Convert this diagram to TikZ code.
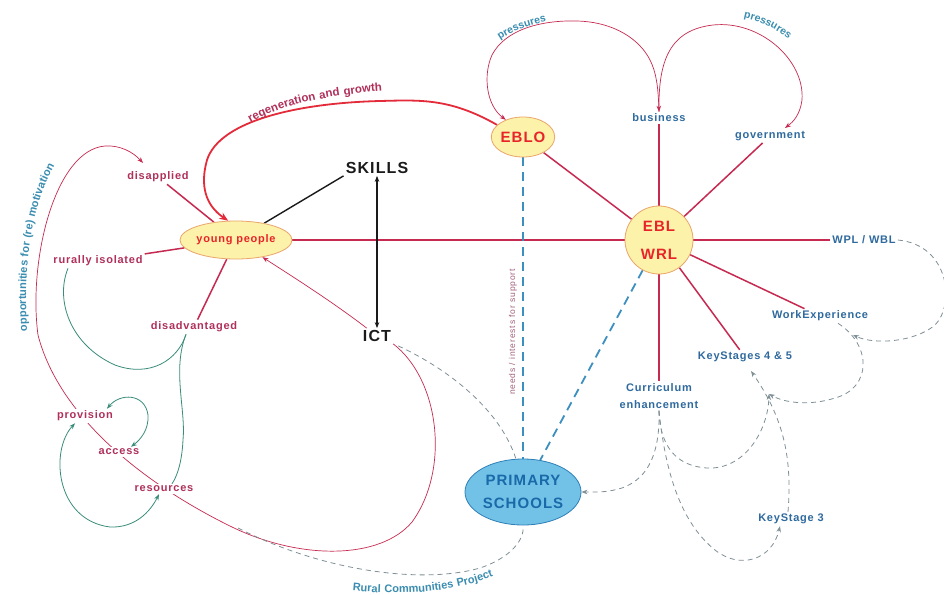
\documentclass[tikz,border=0pt]{standalone}
\usepackage{fontspec}
\setmainfont{Liberation Sans}[LetterSpace=7]
\newfontfamily\plainsans{Liberation Sans}[LetterSpace=10]
\usetikzlibrary{arrows.meta,decorations.text,shapes.geometric}
\pgfdeclarelayer{bg}
\pgfsetlayers{bg,main}
\definecolor{labred}{HTML}{B0305A}
\definecolor{linered}{HTML}{C62A50}
\definecolor{labblue}{HTML}{2F6A9E}
\definecolor{tealtxt}{HTML}{3A8DB0}
\definecolor{loopgreen}{HTML}{3A8C7A}
\definecolor{dashgray}{HTML}{7F8F96}
\definecolor{dashblue}{HTML}{3D8FC0}
\definecolor{ellfill}{HTML}{FCF2A9}
\definecolor{ellborder}{HTML}{E9A56B}
\definecolor{ellred}{HTML}{E8232A}
\definecolor{psfill}{HTML}{72C2E8}
\definecolor{psborder}{HTML}{2E7FB6}
\definecolor{pstext}{HTML}{1A69A8}
\definecolor{mauve}{HTML}{A0607A}
\definecolor{regenred}{HTML}{E32B3A}
\definecolor{blk}{HTML}{1A1A1A}
\tikzset{
  lab/.style={font=\fontsize{11}{12}\selectfont\bfseries, inner sep=2pt},
  redlab/.style={lab, text=labred},
  bluelab/.style={lab, text=labblue},
  yell/.style={ellipse, draw=ellborder, fill=ellfill, line width=0.8pt, inner sep=0pt, text=ellred},
  bigtxt/.style={font=\fontsize{16}{18}\selectfont\bfseries, text=blk, inner sep=2pt},
  conn/.style={draw=linered, line width=1.5pt},
  blkline/.style={draw=blk, line width=1.4pt},
  thinred/.style={draw=linered, line width=0.7pt},
  regen/.style={draw=regenred, line width=1.8pt, >={Stealth[length=9pt,width=7pt]}},
  gloop/.style={draw=loopgreen, line width=0.8pt},
  gdash/.style={draw=dashgray, line width=0.8pt, dash pattern=on 5pt off 4pt},
  bdash/.style={draw=dashblue, line width=1.8pt, dash pattern=on 9pt off 6pt},
}
\begin{document}
\begin{tikzpicture}[x=1pt,y=-1pt,>={Stealth[length=6pt,width=4.5pt]}]
\useasboundingbox (0,0) rectangle (944,594);

% ---------- nodes ----------
\node[yell, minimum width=96pt, minimum height=38pt, font=\fontsize{11}{13}\selectfont\bfseries] (yp) at (236,240) {young people};
\node[yell, minimum width=60pt, minimum height=40pt, font=\fontsize{15}{17}\selectfont\bfseries] (eblo) at (523,137) {EBLO};
\node[yell, circle, minimum size=68pt, align=center, font=\fontsize{15}{17}\selectfont\bfseries] (ebl) at (659,240) {EBL\\[11pt]WRL};
\node[ellipse, draw=psborder, fill=psfill, line width=0.8pt, minimum width=116pt, minimum height=66pt, inner sep=0pt, text=pstext, align=center, font=\fontsize{15}{18}\selectfont\bfseries] (ps) at (523,492) {PRIMARY\\[5pt]SCHOOLS};

\node[bigtxt] (skills) at (377,168) {SKILLS};
\node[bigtxt] (ict) at (377,336) {ICT};

\node[redlab] (disap) at (158,177) {disapplied};
\node[redlab] (rural) at (98,261) {rurally isolated};
\node[redlab] (disadv) at (194,327) {disadvantaged};
\node[redlab, fill=white] (prov) at (85,416) {provision};
\node[redlab, fill=white] (access) at (119,452) {access};
\node[redlab, fill=white] (res) at (164,489) {resources};

\node[bluelab] (bus) at (659,118) {business};
\node[bluelab] (gov) at (770,136) {government};
\node[bluelab] (wpl) at (864,240) {WPL / WBL};
\node[bluelab] (we) at (820,316) {WorkExperience};
\node[bluelab] (ks45) at (745,357) {KeyStages 4 \& 5};
\node[bluelab, align=center, font=\fontsize{11}{12}\selectfont\bfseries] (ce) at (659,396) {Curriculum\\[5pt]enhancement};
\node[bluelab] (ks3) at (791,519) {KeyStage 3};

\node[rotate=90, font=\plainsans\fontsize{8.5}{9}\selectfont, text=mauve, inner sep=1pt] (needs) at (513,332) {needs / interests for support};

\coordinate (dtop) at (143,163);
\coordinate (govtop) at (785,128);
\coordinate (ksA) at (769,394);
\coordinate (ksB) at (751,371);
\coordinate (weArr) at (853,335);
\coordinate (rcp) at (238,528);

% ---------- connectors ----------
\begin{pgfonlayer}{bg}
\fill[white] (0,0) rectangle (944,594);

% spokes
\draw[conn] (yp) -- (ebl);
\draw[conn] (ebl) -- (eblo);
\draw[conn] (ebl) -- (bus);
\draw[conn] (ebl) -- (gov);
\draw[conn] (ebl) -- (wpl);
\draw[conn] (ebl) -- (we);
\draw[conn] (ebl) -- (ks45);
\draw[conn] (ebl) -- (ce);
\draw[conn] (yp) -- (disap);
\draw[conn] (yp) -- (rural);
\draw[conn] (yp) -- (disadv);

% skills / ict
\draw[blkline] (yp) -- (skills.south west);
\draw[blkline,<->] (skills) -- (ict);

% regeneration and growth
\draw[regen,->] (eblo.155) .. controls (450,98) and (420,100) .. (380,101)
  .. controls (300,103) and (220,120) .. (207,160)
  .. controls (200,185) and (205,205) .. (yp.112);

% pressures arcs
\draw[thinred,<->] (eblo.135) .. controls (486,105) and (483,75) .. (492,55)
  .. controls (505,30) and (540,20) .. (577,21)
  .. controls (615,22) and (640,40) .. (650,60)
  .. controls (656,72) and (658,85) .. (bus.north);
\draw[thinred,->] (bus.north) .. controls (658,60) and (670,30) .. (713,25)
  .. controls (760,20) and (805,60) .. (802,100)
  .. controls (800,115) and (793,122) .. (govtop);

% ICT -> young people
\draw[thinred,->] (ict) .. controls (330,300) and (290,275) .. (yp);

% opportunities for (re) motivation
\draw[thinred,->] (ict.south east) .. controls (440,380) and (450,470) .. (412,522)
  .. controls (380,560) and (300,560) .. (232,527)
  .. controls (150,487) and (60,420) .. (38,335)
  .. controls (28,260) and (55,150) .. (105,146)
  .. controls (120,145) and (133,152) .. (dtop);

% green loops
\draw[gloop] ([xshift=-30pt]rural.south) .. controls (55,300) and (70,345) .. (115,365)
  .. controls (150,378) and (178,360) .. ([xshift=-8pt]disadv.south);
\draw[gloop] ([xshift=-8pt]disadv.south) .. controls (172,370) and (186,410) .. (183,440)
  .. controls (182,460) and (178,475) .. ([xshift=8pt]res.north);
\draw[gloop,<->] ([xshift=22pt]prov.north) .. controls (120,393) and (145,393) .. (148,415)
  .. controls (149,430) and (140,440) .. ([xshift=12pt]access.north);
\draw[gloop,<->] ([xshift=-10pt]prov.south) .. controls (50,450) and (55,520) .. (110,527)
  .. controls (135,528) and (150,512) .. ([xshift=-5pt]res.south);

% blue dashed
\draw[bdash] (eblo) -- (ps);
\draw[bdash] (ebl) -- (ps);

% gray dashed
\draw[gdash] ([xshift=5pt,yshift=-2pt]ict.south east) .. controls (450,370) and (500,410) .. (ps.102);
\draw[gdash] (rcp) .. controls (320,570) and (420,585) .. (480,568)
  .. controls (510,558) and (525,540) .. (ps.south);
\draw[gdash,->] (ce.south) .. controls (660,450) and (650,478) .. (622,488)
  .. controls (605,493) and (595,492) .. (ps.east);
\draw[gdash,->] (ce.south) .. controls (660,445) and (675,466) .. (707,468)
  .. controls (745,470) and (768,430) .. (ksA);
\draw[gdash,->] (ce.south) .. controls (665,470) and (680,522) .. (715,550)
  .. controls (740,570) and (772,560) .. ([xshift=-11pt]ks3.south);
\draw[gdash,->] ([xshift=-3pt]ks3.north) .. controls (792,460) and (785,420) .. (ksB);
\draw[gdash,->] (wpl.east) .. controls (950,245) and (955,305) .. (935,325)
  .. controls (915,342) and (875,345) .. (weArr);
\draw[gdash,->] ([xshift=18pt]we.south) .. controls (872,345) and (872,388) .. (835,398)
  .. controls (810,406) and (785,403) .. (ksA);

% curved texts
\path[decorate, decoration={text along path, text align=center,
  text={|\fontsize{11.5}{13}\selectfont\bfseries\color{labred}|regeneration and growth}}]
  (234,134) .. controls (268,106) and (330,93) .. (402,90);
\path[decorate, decoration={text along path, text align=center,
  text={|\fontsize{10.5}{12}\selectfont\bfseries\color{tealtxt}|pressures}}]
  (482,58) .. controls (494,38) and (525,22) .. (572,18);
\path[decorate, decoration={text along path, text align=center,
  text={|\fontsize{10.5}{12}\selectfont\bfseries\color{tealtxt}|pressures}}]
  (727,16) .. controls (754,16) and (780,29) .. (801,50);
\path[decorate, decoration={text along path, text align=center,
  text={|\fontsize{11}{13}\selectfont\bfseries\color{tealtxt}|opportunities for  (re)  motivation}}]
  (29,355) .. controls (20,262) and (32,190) .. (68,146);
\path[decorate, decoration={text along path, text align=center,
  text={|\fontsize{11}{13}\selectfont\bfseries\color{tealtxt}|Rural Communities Project}}]
  (318,586) .. controls (400,599) and (470,595) .. (524,560);
\end{pgfonlayer}
\end{tikzpicture}
\end{document}
